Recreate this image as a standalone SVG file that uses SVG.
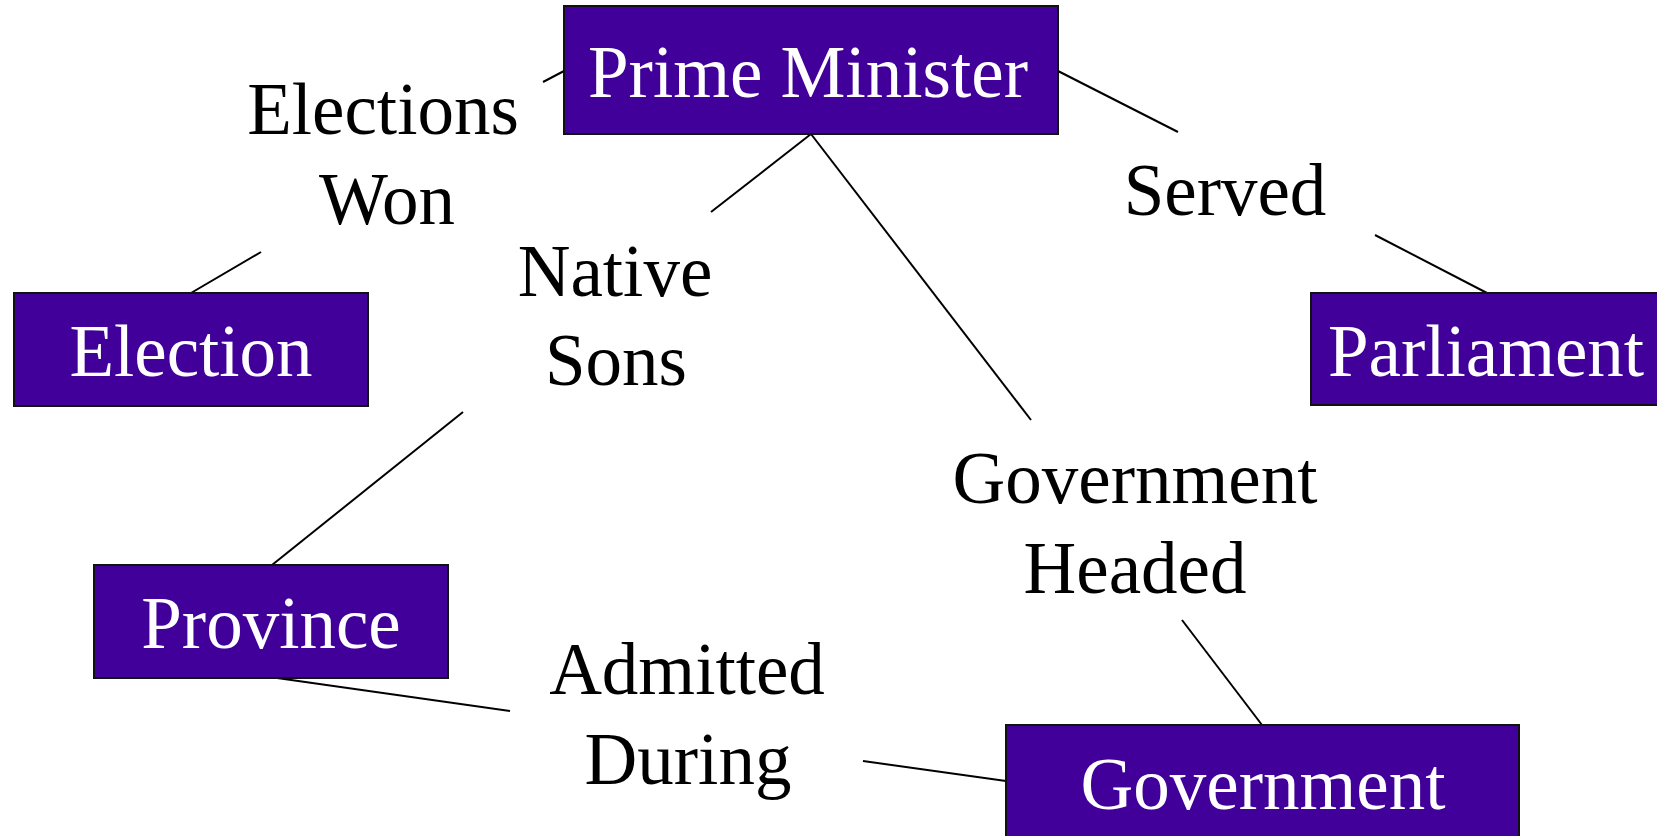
<svg xmlns="http://www.w3.org/2000/svg" width="1657" height="836" viewBox="0 0 1657 836">
<style>
.box{fill:#42009A;stroke:#111;stroke-width:2}
.bt{font-family:"Liberation Serif","Times New Roman",serif;font-size:73px;fill:#fff;text-anchor:middle}
.lt{font-family:"Liberation Serif","Times New Roman",serif;font-size:73px;fill:#000;text-anchor:middle}
.conn line{stroke:#000;stroke-width:2}
</style>
<rect width="1657" height="836" fill="#fff"/>
<g class="conn" id="connectors">
<line x1="543" y1="82" x2="564" y2="71"/>
<line x1="261" y1="252" x2="191" y2="293"/>
<line x1="811" y1="134" x2="711" y2="212"/>
<line x1="811" y1="134" x2="1031" y2="420"/>
<line x1="1058" y1="71" x2="1178" y2="132"/>
<line x1="1375" y1="235" x2="1487" y2="293"/>
<line x1="463" y1="412" x2="272" y2="565"/>
<line x1="270" y1="677" x2="510" y2="711"/>
<line x1="863" y1="761" x2="1006" y2="781"/>
<line x1="1182" y1="620" x2="1262" y2="725"/>
</g>
<g id="prime-minister"><rect class="box" x="564" y="6" width="494" height="128"/><text class="bt" x="808" y="97">Prime Minister</text></g>
<g id="election"><rect class="box" x="14" y="293" width="354" height="113"/><text class="bt" x="191" y="376">Election</text></g>
<g id="parliament"><rect class="box" x="1311" y="293" width="352" height="112"/><text class="bt" x="1486" y="376">Parliament</text></g>
<g id="province"><rect class="box" x="94" y="565" width="354" height="113"/><text class="bt" x="271" y="648">Province</text></g>
<g id="government"><rect class="box" x="1006" y="725" width="513" height="120"/><text class="bt" x="1263" y="809">Government</text></g>
<g id="label-elections-won"><text class="lt" x="383" y="134">Elections</text><text class="lt" x="387" y="224">Won</text></g>
<g id="label-native-sons"><text class="lt" x="615" y="296">Native</text><text class="lt" x="616" y="385">Sons</text></g>
<g id="label-served"><text class="lt" x="1225" y="215">Served</text></g>
<g id="label-government-headed"><text class="lt" x="1135" y="503">Government</text><text class="lt" x="1135" y="593">Headed</text></g>
<g id="label-admitted-during"><text class="lt" x="687" y="694">Admitted</text><text class="lt" x="688" y="784">During</text></g>
</svg>
